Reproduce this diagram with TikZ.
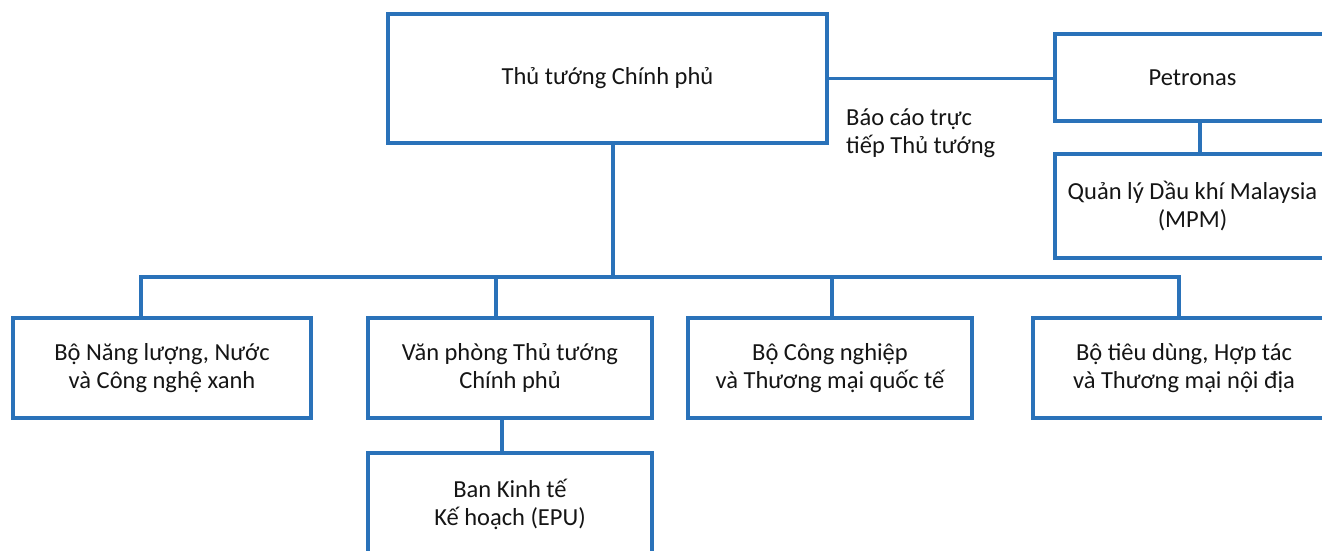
\documentclass[tikz,border=0pt]{standalone}
\usepackage{fontspec}
\setmainfont{Carlito}
\definecolor{lineblue}{HTML}{2A72B9}
\definecolor{txt}{HTML}{151515}
\begin{document}
\begin{tikzpicture}[x=1pt,y=-1pt,
  orgbox/.style={draw=lineblue, line width=3.2pt, fill=white, rectangle, inner sep=0pt,
    align=center, text=txt, font=\fontsize{24.5}{28}\selectfont},
  conn/.style={draw=lineblue, line width=3.2pt},
  lbl/.style={align=left, text=txt, font=\fontsize{24.5}{28}\selectfont, inner sep=0pt, anchor=north west}]
\useasboundingbox (0,0) rectangle (1322,550);
\clip (0,0) rectangle (1322,550);
% boxes
\node[orgbox, minimum width=439pt, minimum height=129pt] (pm) at (607.5,78.5) {Thủ tướng Chính phủ};
\node[orgbox, minimum width=275pt, minimum height=87pt] (pet) at (1192.5,77.5) {Petronas};
\node[orgbox, minimum width=275pt, minimum height=104pt] (mpm) at (1192.5,206) {Quản lý Dầu khí Malaysia\\(MPM)};
\node[orgbox, minimum width=298pt, minimum height=100pt] (b1) at (162,368) {Bộ Năng lượng, Nước\\và Công nghệ xanh};
\node[orgbox, minimum width=284pt, minimum height=100pt] (b2) at (510,368) {Văn phòng Thủ tướng\\Chính phủ};
\node[orgbox, minimum width=284pt, minimum height=100pt] (b3) at (830,368) {Bộ Công nghiệp\\và Thương mại quốc tế};
\node[orgbox, minimum width=302pt, minimum height=100pt] (b4) at (1184,368) {Bộ tiêu dùng, Hợp tác\\và Thương mại nội địa};
\node[orgbox, minimum width=284pt, minimum height=102pt] (epu) at (510,504) {Ban Kinh tế\\Kế hoạch (EPU)};
\node[lbl] (note) at (846,109) {Báo cáo trực\\tiếp Thủ tướng};
% junctions
\coordinate (top) at (613,0);
\coordinate (j0) at (613,277);
\coordinate (j1) at (141,277);
\coordinate (j2) at (496,277);
\coordinate (j3) at (832,277);
\coordinate (j4) at (1179,277);
\coordinate (k) at (502,0);
\coordinate (p) at (1200,0);
% connectors
\draw[conn] (pm.east) -- (pm.east -| pet.west);
\draw[conn] (pet.south -| p) -- (mpm.north -| p);
\draw[conn] (pm.south -| top) -- (j0);
\draw[conn, line cap=rect] (j1) -- (j4);
\draw[conn] (j1) -- (j1 |- b1.north);
\draw[conn] (j2) -- (j2 |- b2.north);
\draw[conn] (j3) -- (j3 |- b3.north);
\draw[conn] (j4) -- (j4 |- b4.north);
\draw[conn] (b2.south -| k) -- (epu.north -| k);
\end{tikzpicture}
\end{document}
